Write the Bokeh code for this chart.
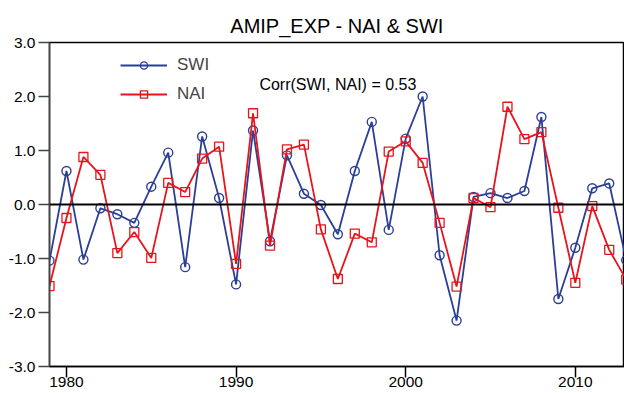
from bokeh.plotting import figure
from bokeh.models import (ColumnDataSource, FixedTicker, PrintfTickFormatter, Span,
                          Label, Legend, LegendItem, Range1d)
from bokeh.embed import file_html
from bokeh.resources import INLINE

# ---- data ----
years = list(range(1979, 2014))
swi = [-1.04, 0.62, -1.02, -0.07, -0.18, -0.34, 0.33, 0.96, -1.16, 1.26,
       0.12, -1.48, 1.37, -0.68, 0.91, 0.20, -0.01, -0.55, 0.62, 1.53,
       -0.47, 1.22, 2.00, -0.94, -2.15, 0.14, 0.21, 0.12, 0.25, 1.62,
       -1.75, -0.80, 0.30, 0.39, -1.03]
nai = [-1.51, -0.25, 0.88, 0.55, -0.90, -0.51, -0.99, 0.40, 0.23, 0.85,
       1.07, -1.10, 1.69, -0.76, 1.02, 1.11, -0.46, -1.38, -0.54, -0.70,
       0.98, 1.17, 0.77, -0.34, -1.52, 0.12, -0.05, 1.81, 1.21, 1.34,
       -0.06, -1.45, -0.03, -0.84, -1.39]
x_ticks = [1980, 1990, 2000, 2010]
y_ticks = [-3, -2, -1, 0, 1, 2, 3]
title_text = "AMIP_EXP - NAI & SWI"
corr_text = "Corr(SWI, NAI) = 0.53"

FONT = "Liberation Sans"
BLUE = "#2b3f98"
RED = "#e8141c"

src = ColumnDataSource(dict(year=years, swi=swi, nai=nai))

p = figure(width=624, height=393, output_backend="svg", toolbar_location=None,
           x_range=Range1d(1979, 2012.9), y_range=Range1d(-3, 3),
           min_border_left=49, min_border_right=0, min_border_top=42,
           min_border_bottom=27)
p.title.text = title_text
p.title.align = "center"
p.title.text_font = FONT
p.title.text_font_size = "20px"
p.title.text_font_style = "normal"
p.title.text_color = "black"
p.title.standoff = 12

p.xgrid.visible = False
p.ygrid.visible = False
p.outline_line_color = "black"
p.outline_line_width = 1.5
p.background_fill_color = "white"
p.border_fill_color = "white"

for ax in (p.xaxis[0], p.yaxis[0]):
    ax.major_label_text_font = FONT
    ax.major_label_text_font_size = "15.5px"
    ax.major_label_text_color = "black"
    ax.major_tick_out = 11
    ax.major_tick_in = 0
    ax.minor_tick_out = 0
    ax.minor_tick_in = 0
    ax.axis_line_width = 1.5
    ax.major_tick_line_width = 1.5
p.xaxis.ticker = FixedTicker(ticks=x_ticks)
p.yaxis.ticker = FixedTicker(ticks=y_ticks)
p.yaxis.formatter = PrintfTickFormatter(format="%.1f")
p.xaxis.axis_line_color = "black"
p.yaxis.axis_line_color = "#444444"
p.yaxis.major_tick_line_color = "#444444"
p.xaxis.major_label_standoff = -1
p.yaxis.major_label_standoff = 3

p.add_layout(Span(location=0, dimension="width", line_color="black", line_width=2))

l1 = p.line("year", "swi", source=src, line_color=BLUE, line_width=1.8)
m1 = p.scatter("year", "swi", source=src, marker="circle", size=9,
               fill_color=None, line_color=BLUE, line_width=1.4)
l2 = p.line("year", "nai", source=src, line_color=RED, line_width=1.8)
m2 = p.scatter("year", "nai", source=src, marker="square", size=9,
               fill_color=None, line_color=RED, line_width=1.3)

legend = Legend(items=[LegendItem(label="SWI", renderers=[l1, m1]),
                       LegendItem(label="NAI", renderers=[l2, m2])],
                location=(71, 262), glyph_width=47, glyph_height=18,
                label_height=18, label_standoff=10, spacing=9, padding=0,
                margin=0, border_line_color=None, background_fill_alpha=0,
                label_text_font=FONT, label_text_font_size="17px")
p.add_layout(legend)

p.add_layout(Label(x=1996.0, y=2.22, text=corr_text, text_align="center",
                   text_baseline="middle", text_font=FONT, text_font_size="16px",
                   text_color="black"))

open("out.html", "w").write(file_html(p, INLINE))
